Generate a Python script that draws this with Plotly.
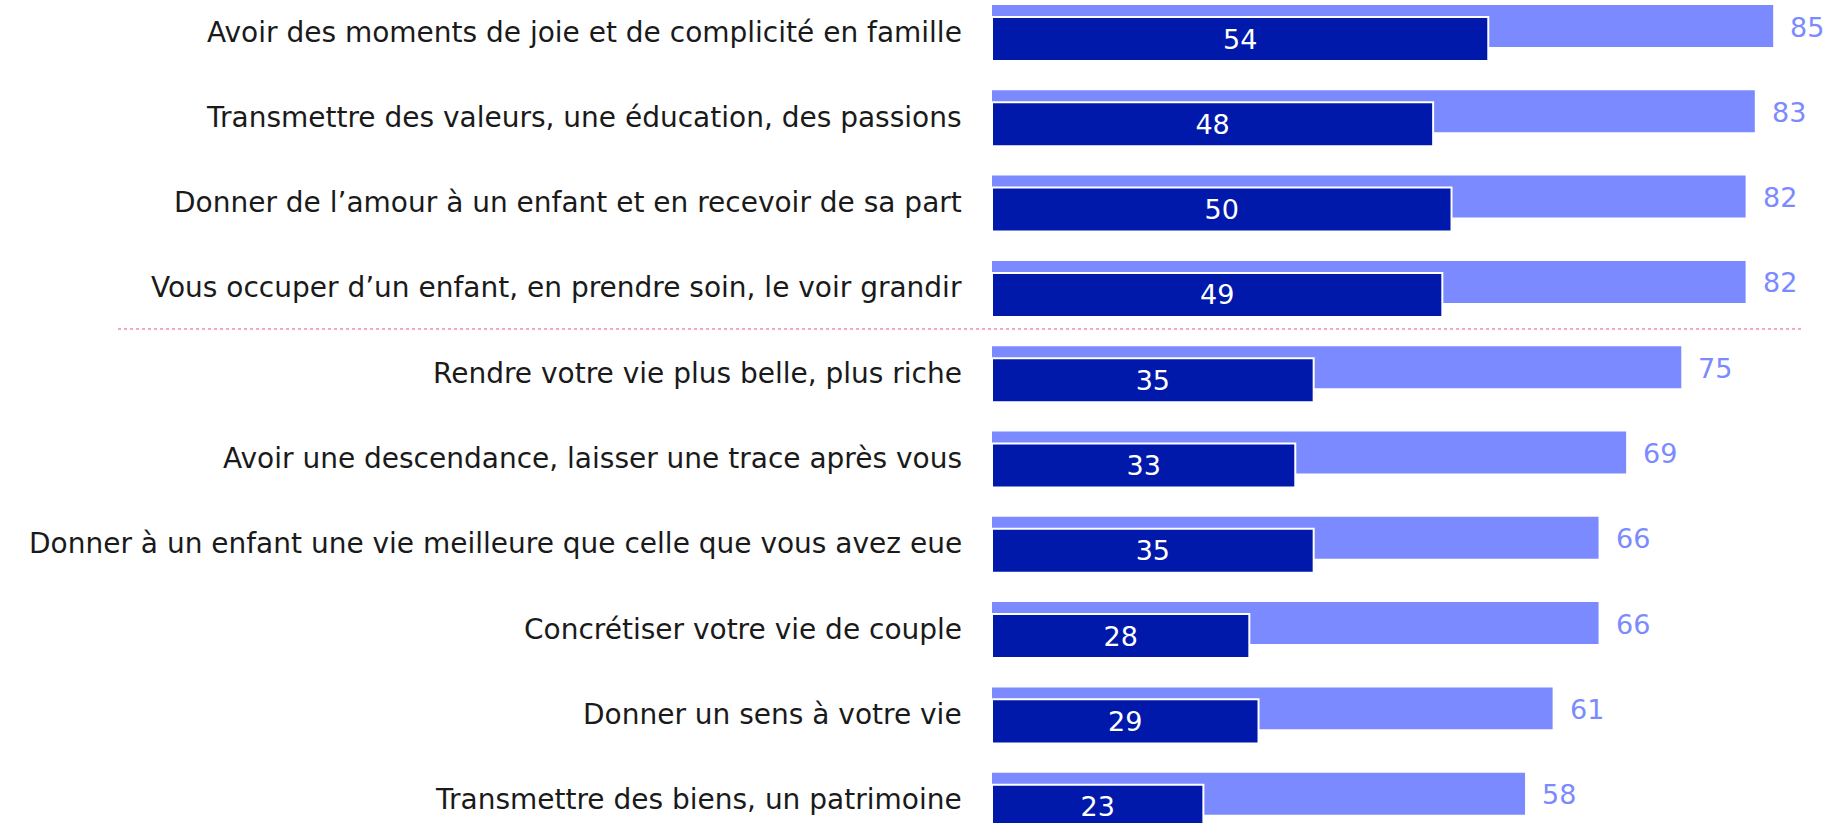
import plotly.graph_objects as go

categories = [
    "Avoir des moments de joie et de complicité en famille",
    "Transmettre des valeurs, une éducation, des passions",
    "Donner de l’amour à un enfant et en recevoir de sa part",
    "Vous occuper d’un enfant, en prendre soin, le voir grandir",
    "Rendre votre vie plus belle, plus riche",
    "Avoir une descendance, laisser une trace après vous",
    "Donner à un enfant une vie meilleure que celle que vous avez eue",
    "Concrétiser votre vie de couple",
    "Donner un sens à votre vie",
    "Transmettre des biens, un patrimoine",
]
total = [85, 83, 82, 82, 75, 69, 66, 66, 61, 58]
principal = [54, 48, 50, 49, 35, 33, 35, 28, 29, 23]
split_after = 4  # separator between the first 4 items and the rest

LIGHT = "#7b8bff"
DARK = "#0019aa"
FONT = "DejaVu Sans"

fig = go.Figure()

fig.add_trace(go.Bar(
    y=categories, x=total, orientation="h",
    width=0.492, offset=-0.246,
    marker=dict(color=LIGHT, line=dict(width=0)),
    hoverinfo="skip",
))

fig.add_trace(go.Bar(
    y=categories, x=principal, orientation="h",
    width=0.516, offset=-0.1055,
    marker=dict(color=DARK, line=dict(width=2, color="white")),
    text=principal, textposition="inside", insidetextanchor="middle",
    textfont=dict(color="white", size=27, family=FONT),
    hoverinfo="skip",
))

# category labels, right aligned just left of the bars
for cat in categories:
    fig.add_annotation(
        x=0, y=cat, xref="x", yref="y", text=cat, showarrow=False,
        xanchor="right", yanchor="middle", xshift=-28, yshift=-6,
        font=dict(size=28, color="#1a1a1a", family=FONT),
    )

# total values at the end of the light bars
for cat, v in zip(categories, total):
    fig.add_annotation(
        x=v, y=cat, xref="x", yref="y", text=str(v), showarrow=False,
        xanchor="left", yanchor="middle", xshift=15, yshift=-1,
        font=dict(size=27, color=LIGHT, family=FONT),
    )

fig.add_shape(
    type="line", xref="paper", yref="y",
    x0=118 / 1832, x1=1803 / 1832,
    y0=split_after - 0.448, y1=split_after - 0.448,
    line=dict(color="#e8509a", width=1, dash="dot"),
)

fig.update_layout(
    width=1832, height=823,
    barmode="overlay",
    margin=dict(l=0, r=0, t=0, b=0),
    plot_bgcolor="white", paper_bgcolor="white",
    showlegend=False,
    uniformtext=dict(minsize=27, mode="show"),
    xaxis=dict(range=[-107.94, 91.4], visible=False, fixedrange=True),
    yaxis=dict(
        type="category", categoryorder="array", categoryarray=categories,
        range=[9.344, -0.305], visible=False, fixedrange=True,
    ),
)

fig.write_html("out.html", config={"displayModeBar": False},
               post_script="document.body.style.margin='0';")
